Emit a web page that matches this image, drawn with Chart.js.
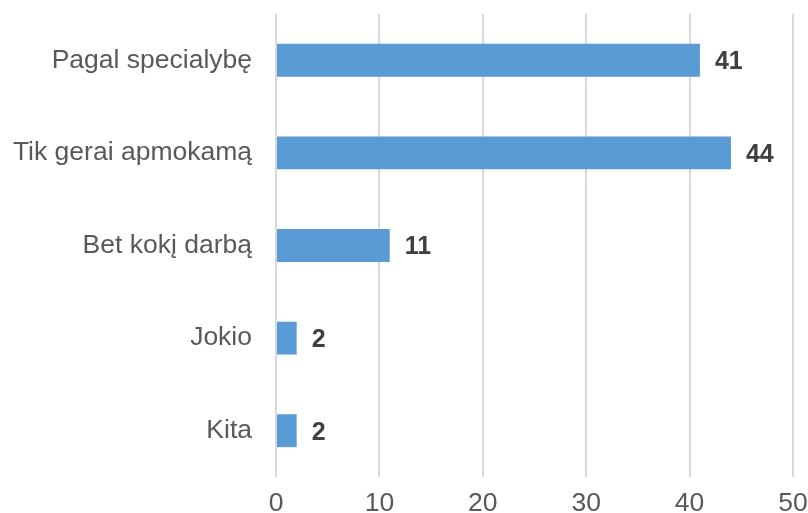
<!DOCTYPE html>
<html>
<head>
<meta charset="utf-8">
<script src="https://cdn.jsdelivr.net/npm/chart.js@4"></script>
<style>
  html, body { margin: 0; padding: 0; background: #fff; }
  canvas { display: block; }
</style>
</head>
<body>
<canvas id="my-chart" width="808" height="513"></canvas>
<script>
const categories = ['Pagal specialybę', 'Tik gerai apmokamą', 'Bet kokį darbą', 'Jokio', 'Kita'];
const values = [41, 44, 11, 2, 2];
const xTicks = [0, 10, 20, 30, 40, 50];

const fontFamily = '"Liberation Sans", Arial, sans-serif';

// draws the value next to each bar end
const valueLabels = {
    id: 'valueLabels',
    afterDatasetsDraw(chart) {
        const ctx = chart.ctx;
        const meta = chart.getDatasetMeta(0);
        ctx.save();
        ctx.font = 'bold 25px ' + fontFamily;
        ctx.fillStyle = '#404040';
        ctx.textAlign = 'left';
        ctx.textBaseline = 'middle';
        meta.data.forEach((bar, i) => {
            ctx.fillText(String(values[i]), bar.x + 15, bar.y + 2);
        });
        ctx.restore();
    }
};

const ctxBar = document.getElementById('my-chart').getContext('2d');
new Chart(ctxBar, {
    type: 'bar',
    data: {
        labels: categories,
        datasets: [{
            data: values,
            backgroundColor: '#5B9BD5',
            borderWidth: 0,
            categoryPercentage: 1,
            barPercentage: 0.355
        }]
    },
    plugins: [valueLabels],
    options: {
        indexAxis: 'y',
        responsive: false,
        animation: false,
        layout: { padding: { top: 14, right: 15, bottom: 0, left: 0 } },
        plugins: {
            legend: { display: false },
            tooltip: { enabled: false }
        },
        scales: {
            x: {
                min: 0,
                max: 50,
                afterBuildTicks: axis => { axis.ticks = xTicks.map(v => ({ value: v })); },
                afterFit: axis => {
                    axis.height = 36;
                    axis.paddingLeft = 0;
                    axis.paddingRight = 0;
                },
                grid: { color: '#d9d9d9', lineWidth: 2, drawTicks: false },
                border: { display: false },
                ticks: {
                    color: '#595959',
                    padding: 13,
                    font: { family: fontFamily, size: 26.5, lineHeight: 1 }
                }
            },
            y: {
                afterFit: axis => {
                    axis.width = 276;
                    axis.paddingTop = 0;
                    axis.paddingBottom = 0;
                },
                grid: { display: false, drawTicks: false },
                border: { display: false },
                ticks: {
                    color: '#595959',
                    padding: 24,
                    font: { family: fontFamily, size: 26.5 }
                }
            }
        }
    }
});
</script>
</body>
</html>
